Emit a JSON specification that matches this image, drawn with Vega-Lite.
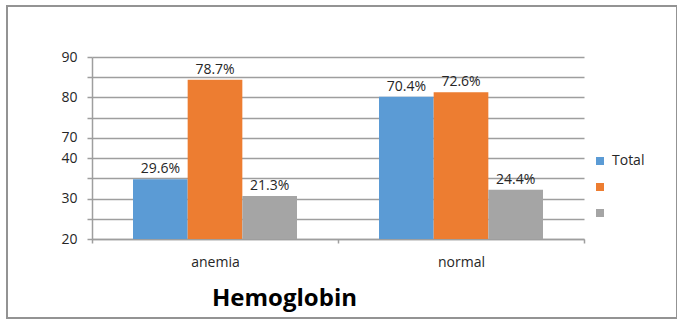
{
  "$schema": "https://vega.github.io/schema/vega-lite/v6.json",
  "width": 670,
  "height": 312,
  "autosize": {"type": "none"},
  "padding": {"left": 7, "top": 6, "right": 0, "bottom": 2},
  "data": {
    "values": [
      {"group": "anemia", "series": "Total", "value": 29.6},
      {"group": "anemia", "series": "Series 2", "value": 78.7},
      {"group": "anemia", "series": "Series 3", "value": 21.3},
      {"group": "normal", "series": "Total", "value": 70.4},
      {"group": "normal", "series": "Series 2", "value": 72.6},
      {"group": "normal", "series": "Series 3", "value": 24.4}
    ]
  },
  "transform": [
    {"calculate": "format(datum.value, '.1f') + '%'", "as": "label"}
  ],
  "encoding": {
    "x": {
      "field": "group",
      "type": "nominal",
      "sort": ["anemia", "normal"],
      "scale": {"range": [85, 577], "paddingInner": 0, "paddingOuter": 0},
      "axis": {
        "orient": "bottom",
        "offset": -79,
        "title": "Hemoglobin",
        "labelAngle": 0,
        "tickBand": "extent",
        "tickSize": 4,
        "labelPadding": 12,
        "labelBaseline": "top",
        "titleX": 277,
        "titleY": 66,
        "titleAlign": "center",
        "titleBaseline": "alphabetic",
        "titleFont": "Open Sans",
        "titleFontSize": 24,
        "titleFontWeight": "bold",
        "titleColor": "#000000"
      }
    },
    "xOffset": {
      "field": "series",
      "type": "nominal",
      "sort": ["Total", "Series 2", "Series 3"],
      "scale": {"paddingInner": 0, "paddingOuter": 0.75}
    },
    "y": {
      "field": "value",
      "type": "quantitative",
      "scale": {"domain": [0, 90], "range": [233, 51], "nice": false, "zero": true},
      "axis": {
        "offset": -85,
        "title": null,
        "values": [0, 10, 20, 30, 40, 50, 60, 70, 80, 90],
        "labelExpr": "datum.value == 0 ? '20' : datum.value == 20 ? '30' : datum.value == 40 ? '40' : datum.value == 50 ? '70' : datum.value == 70 ? '80' : datum.value == 90 ? '90' : ''",
        "grid": true,
        "tickSize": 5,
        "labelPadding": 10,
        "labelBaseline": "middle"
      }
    }
  },
  "layer": [
    {
      "mark": {"type": "bar"},
      "encoding": {
        "color": {
          "field": "series",
          "type": "nominal",
          "sort": ["Total", "Series 2", "Series 3"],
          "scale": {"range": ["#5b9bd5", "#ed7d31", "#a5a5a5"]},
          "legend": {
            "orient": "none",
            "legendX": 586,
            "legendY": 148,
            "title": null,
            "symbolType": "square",
            "symbolSize": 64,
            "symbolStrokeWidth": 0,
            "symbolOpacity": 1,
            "labelFont": "Open Sans",
            "labelFontSize": 14,
            "labelColor": "#262626",
            "labelOffset": 5,
            "rowPadding": 12,
            "labelExpr": "datum.label == 'Total' ? 'Total' : ''"
          }
        }
      }
    },
    {
      "mark": {
        "type": "text",
        "baseline": "bottom",
        "dy": -3,
        "font": "Open Sans",
        "fontSize": 14,
        "color": "#262626"
      },
      "encoding": {
        "text": {"field": "label", "type": "nominal"}
      }
    }
  ],
  "config": {
    "view": {"stroke": "#939393", "strokeWidth": 2},
    "axis": {
      "labelFont": "Open Sans",
      "labelFontSize": 14,
      "labelColor": "#262626",
      "domainColor": "#9e9e9e",
      "domainWidth": 1.5,
      "tickColor": "#9e9e9e",
      "tickWidth": 1.5,
      "gridColor": "#9e9e9e",
      "gridWidth": 1.5
    }
  }
}
